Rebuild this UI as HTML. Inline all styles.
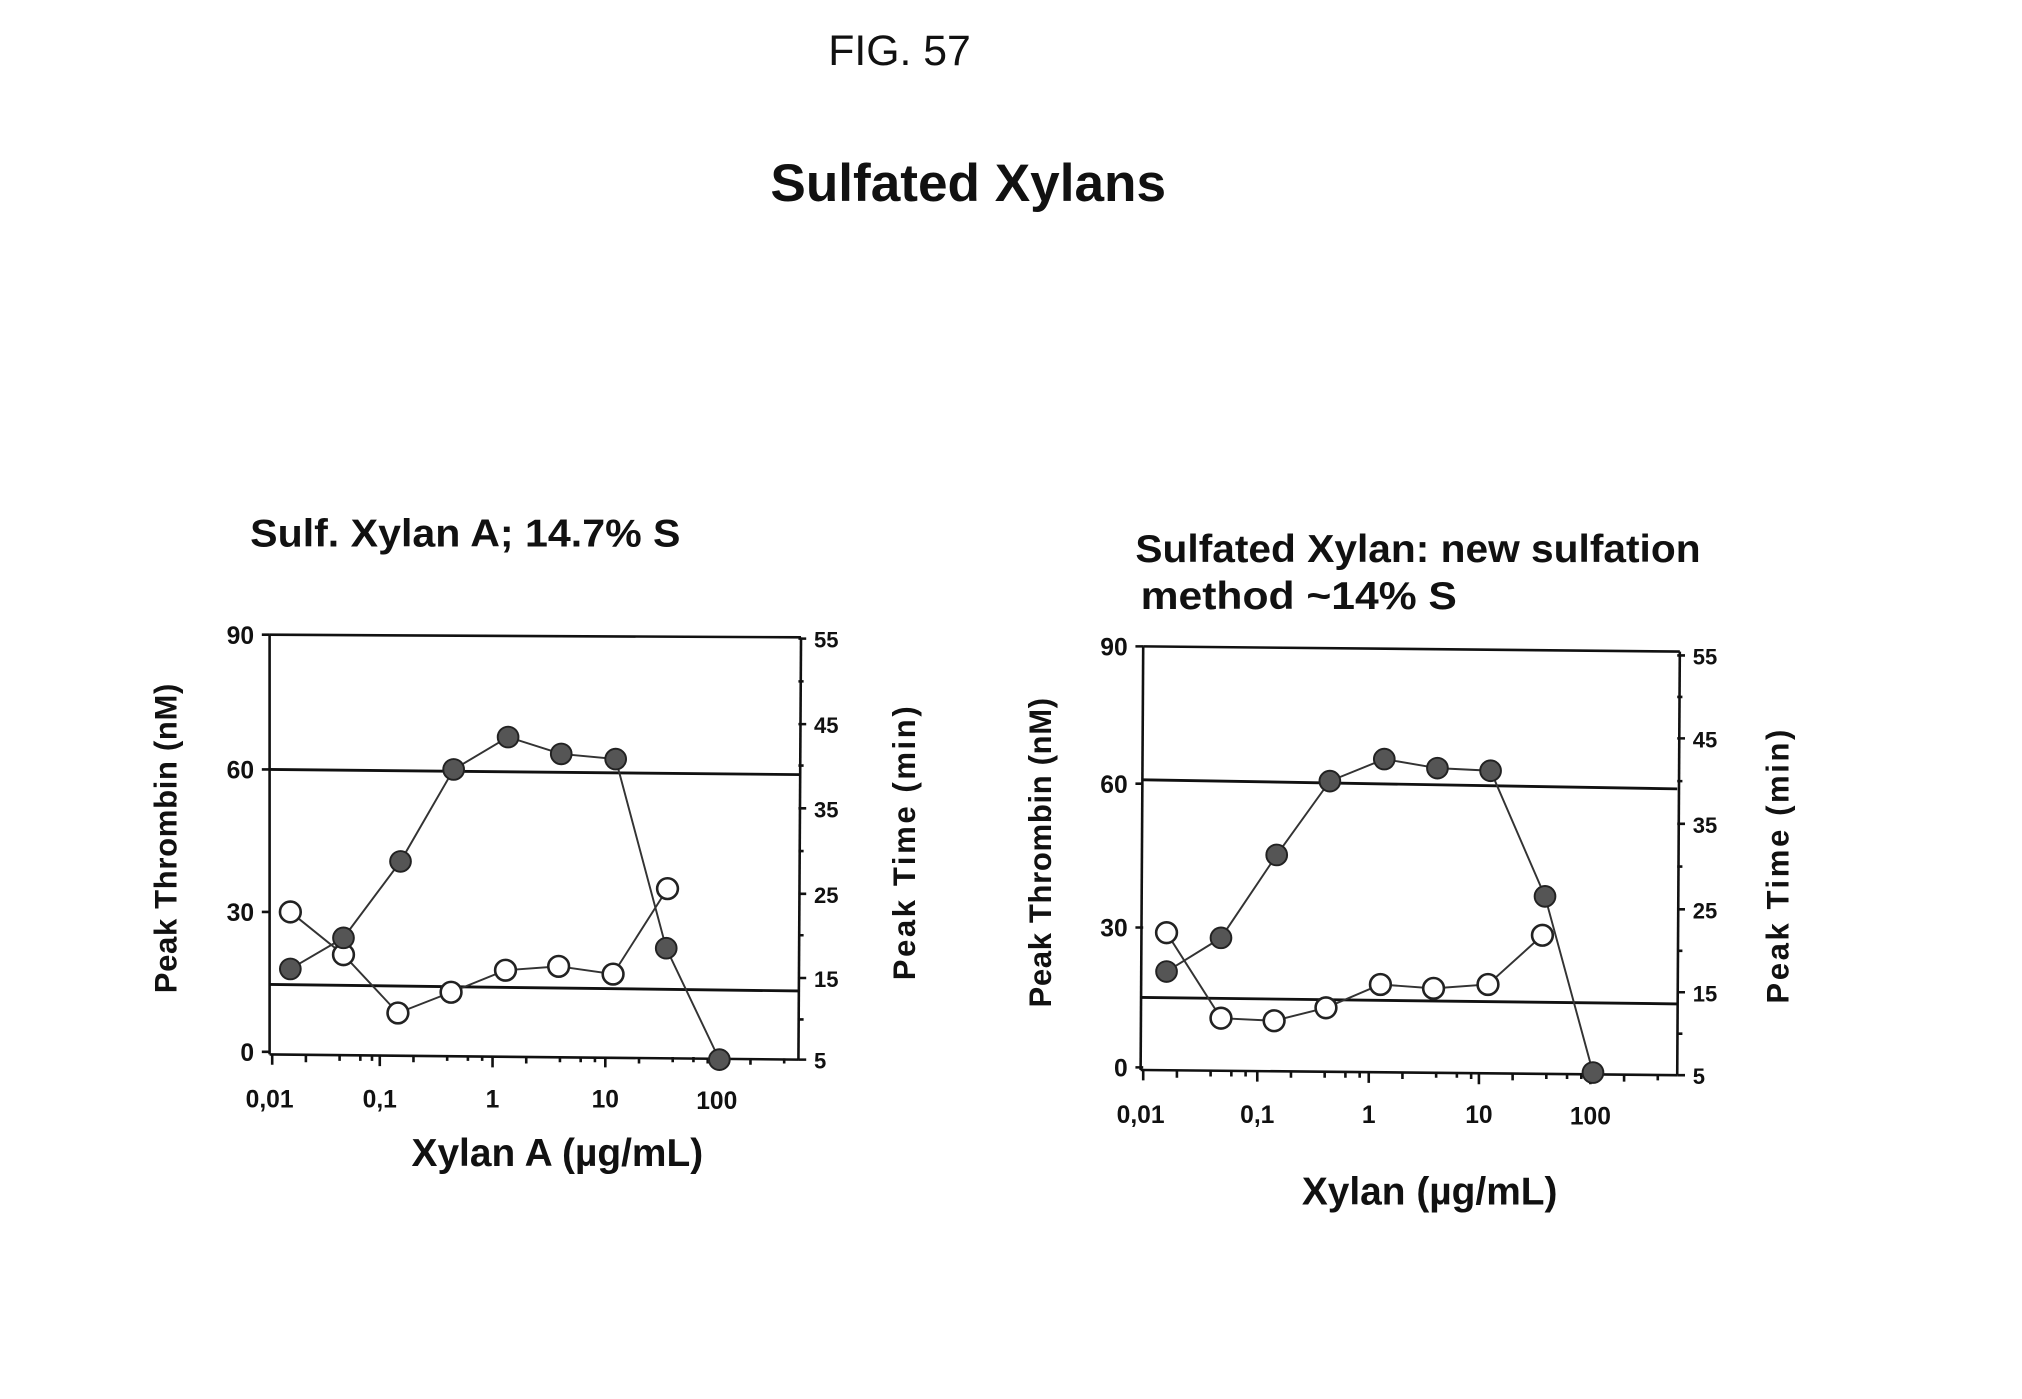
<!DOCTYPE html>
<html><head><meta charset="utf-8"><style>
html,body{margin:0;padding:0;background:#fff}
svg{display:block}
text{font-family:"Liberation Sans",Arial,sans-serif;fill:#111}
.b{font-weight:bold}
</style></head><body>
<svg width="2022" height="1399" viewBox="0 0 1560 1080" preserveAspectRatio="none" xmlns="http://www.w3.org/2000/svg">
<text x="694" y="50" font-size="33" text-anchor="middle">FIG. 57</text>
<text x="747" y="155" font-size="41" class="b" text-anchor="middle">Sulfated Xylans</text>

<!-- LEFT CHART -->
<g stroke="#111" fill="none" stroke-width="2">
<line x1="208" y1="490" x2="618" y2="492"/>
<line x1="208" y1="490" x2="208" y2="814"/>
<line x1="618" y1="492" x2="616" y2="818"/>
<line x1="208" y1="814" x2="616" y2="818"/>
<line x1="208" y1="594" x2="618" y2="598" stroke-width="2.2"/>
<line x1="208" y1="760" x2="616" y2="765" stroke-width="2.2"/>
<path d="M202 490h6M202 594h6M202 704h6M202 812h6"/>
<path d="M616 493h6M616 526h4M616 559h6M616 591h4M616 624h6M616 657h4M616 690h6M616 722h4M616 755h6M616 787h4M616 818h6"/>
<path d="M210 814v8M236 815v5M262 815v4M278 815v4M287 815v4M293 815v8M319 815v5M345 815v4M361 815v4M372 815v4M380 816v8M406 816v5M432 816v4M448 816v4M459 816v4M467 816v8M493 816v5M519 816v4M535 816v4M546 817v4M553 817v8M579 817v5M605 817v4"/>
</g>
<polyline fill="none" stroke="#333" stroke-width="1.5" points="224,748 265,724 309,665 350,594 392,569 433,582 475,586 514,732 555,818"/>
<polyline fill="none" stroke="#333" stroke-width="1.5" points="224,704 265,737 307,782 348,766 390,749 431,746 473,752 515,686"/>
<g fill="#fff" stroke="#222" stroke-width="2">
<circle cx="224" cy="704" r="8"/><circle cx="265" cy="737" r="8"/><circle cx="307" cy="782" r="8"/><circle cx="348" cy="766" r="8"/><circle cx="390" cy="749" r="8"/><circle cx="431" cy="746" r="8"/><circle cx="473" cy="752" r="8"/><circle cx="515" cy="686" r="8"/>
</g>
<g fill="#555" stroke="#222" stroke-width="1.5">
<circle cx="224" cy="748" r="8"/><circle cx="265" cy="724" r="8"/><circle cx="309" cy="665" r="8"/><circle cx="350" cy="594" r="8"/><circle cx="392" cy="569" r="8"/><circle cx="433" cy="582" r="8"/><circle cx="475" cy="586" r="8"/><circle cx="514" cy="732" r="8"/><circle cx="555" cy="818" r="8"/>
</g>
<text x="193" y="422" font-size="30" class="b" textLength="332" lengthAdjust="spacingAndGlyphs">Sulf. Xylan A; 14.7% S</text>
<g font-size="19" class="b" text-anchor="end">
<text x="196" y="497">90</text><text x="196" y="601">60</text><text x="196" y="711">30</text><text x="196" y="819">0</text>
</g>
<g font-size="17" class="b">
<text x="628" y="500">55</text><text x="628" y="566">45</text><text x="628" y="631">35</text><text x="628" y="697">25</text><text x="628" y="762">15</text><text x="628" y="825">5</text>
</g>
<g font-size="19" class="b" text-anchor="middle">
<text x="208" y="855">0,01</text><text x="293" y="855">0,1</text><text x="380" y="855">1</text><text x="467" y="855">10</text><text x="553" y="856">100</text>
</g>
<text x="430" y="900" font-size="30" class="b" text-anchor="middle">Xylan A (µg/mL)</text>
<text transform="translate(136,647) rotate(-90)" font-size="24" class="b" text-anchor="middle" letter-spacing="0.5">Peak Thrombin (nM)</text>
<text transform="translate(706,650) rotate(-90)" font-size="24" class="b" text-anchor="middle" letter-spacing="2">Peak Time (min)</text>

<!-- RIGHT CHART -->
<g stroke="#111" fill="none" stroke-width="2">
<line x1="882" y1="499" x2="1296" y2="503"/>
<line x1="882" y1="499" x2="880" y2="826"/>
<line x1="1296" y1="503" x2="1294" y2="830"/>
<line x1="880" y1="826" x2="1294" y2="830"/>
<line x1="882" y1="602" x2="1294" y2="609" stroke-width="2.2"/>
<line x1="880" y1="770" x2="1294" y2="775" stroke-width="2.2"/>
<path d="M876 499h6M876 605h6M876 716h6M876 824h6"/>
<path d="M1294 506h6M1294 538h4M1294 570h6M1294 603h4M1294 636h6M1294 669h4M1294 702h6M1294 734h4M1294 766h6M1294 798h4M1294 830h6"/>
<path d="M882 826v8M908 827v5M934 827v4M950 827v4M961 827v4M970 827v8M996 827v5M1022 828v4M1038 828v4M1049 828v4M1056 828v8M1082 828v5M1108 828v4M1124 828v4M1135 829v4M1141 829v8M1167 829v5M1193 829v4M1209 829v4M1220 829v4M1227 829v8M1253 830v5M1279 830v4"/>
</g>
<polyline fill="none" stroke="#333" stroke-width="1.5" points="900,750 942,724 985,660 1026,603 1068,586 1109,593 1150,595 1192,692 1229,828"/>
<polyline fill="none" stroke="#333" stroke-width="1.5" points="900,720 942,786 983,788 1023,778 1065,760 1106,763 1148,760 1190,722"/>
<g fill="#fff" stroke="#222" stroke-width="2">
<circle cx="900" cy="720" r="8"/><circle cx="942" cy="786" r="8"/><circle cx="983" cy="788" r="8"/><circle cx="1023" cy="778" r="8"/><circle cx="1065" cy="760" r="8"/><circle cx="1106" cy="763" r="8"/><circle cx="1148" cy="760" r="8"/><circle cx="1190" cy="722" r="8"/>
</g>
<g fill="#555" stroke="#222" stroke-width="1.5">
<circle cx="900" cy="750" r="8"/><circle cx="942" cy="724" r="8"/><circle cx="985" cy="660" r="8"/><circle cx="1026" cy="603" r="8"/><circle cx="1068" cy="586" r="8"/><circle cx="1109" cy="593" r="8"/><circle cx="1150" cy="595" r="8"/><circle cx="1192" cy="692" r="8"/><circle cx="1229" cy="828" r="8"/>
</g>
<text x="876" y="434" font-size="30" class="b" textLength="436" lengthAdjust="spacingAndGlyphs">Sulfated Xylan: new sulfation</text>
<text x="880" y="470" font-size="30" class="b" textLength="244" lengthAdjust="spacingAndGlyphs">method  ~14% S</text>
<g font-size="19" class="b" text-anchor="end">
<text x="870" y="506">90</text><text x="870" y="612">60</text><text x="870" y="723">30</text><text x="870" y="831">0</text>
</g>
<g font-size="17" class="b">
<text x="1306" y="513">55</text><text x="1306" y="577">45</text><text x="1306" y="643">35</text><text x="1306" y="709">25</text><text x="1306" y="773">15</text><text x="1306" y="837">5</text>
</g>
<g font-size="19" class="b" text-anchor="middle">
<text x="880" y="867">0,01</text><text x="970" y="867">0,1</text><text x="1056" y="867">1</text><text x="1141" y="867">10</text><text x="1227" y="868">100</text>
</g>
<text x="1103" y="930" font-size="30" class="b" text-anchor="middle">Xylan (µg/mL)</text>
<text transform="translate(811,658) rotate(-90)" font-size="24" class="b" text-anchor="middle" letter-spacing="0.5">Peak Thrombin (nM)</text>
<text transform="translate(1380,668) rotate(-90)" font-size="24" class="b" text-anchor="middle" letter-spacing="2">Peak Time (min)</text>
</svg>
</body></html>
